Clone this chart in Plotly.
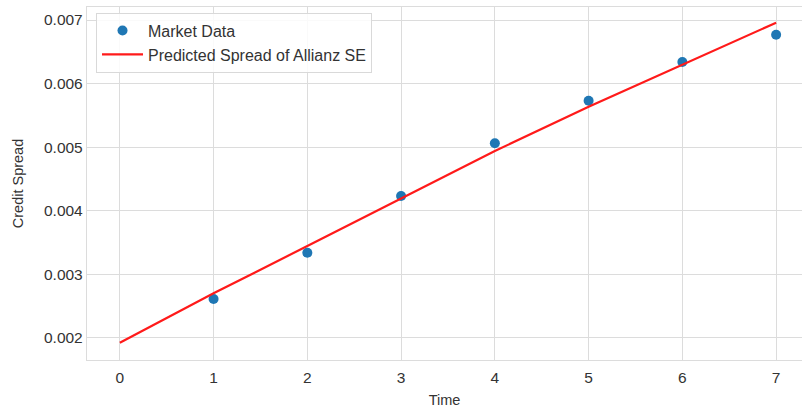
import plotly.graph_objects as go

# Data
time_market = [1, 2, 3, 4, 5, 6, 7]
spread_market = [0.002609, 0.003338, 0.004230, 0.005060, 0.005730, 0.006339, 0.006769]

time_pred = [0, 1, 2, 3, 4, 5, 6, 7]
spread_pred = [0.001921, 0.002699, 0.003443, 0.004194, 0.004938, 0.005636, 0.006292, 0.006958]

x_ticks = [0, 1, 2, 3, 4, 5, 6, 7]
y_ticks = [0.002, 0.003, 0.004, 0.005, 0.006, 0.007]
y_tick_text = ["0.002", "0.003", "0.004", "0.005", "0.006", "0.007"]

FONT = "Liberation Sans, Arial, sans-serif"
TXT = "#333333"
GRID = "#dcdcdc"

fig = go.Figure()
fig.add_trace(go.Scatter(
    x=time_market, y=spread_market, mode="markers", name="Market Data",
    marker=dict(color="#1f77b4", size=10, line=dict(width=0)),
))
fig.add_trace(go.Scatter(
    x=time_pred, y=spread_pred, mode="lines", name="Predicted Spread of Allianz SE",
    line=dict(color="#ff1a1a", width=2.2),
))

fig.update_layout(
    width=802, height=409,
    margin=dict(l=87, r=0, t=7, b=49),
    paper_bgcolor="white", plot_bgcolor="white",
    font=dict(family=FONT, color=TXT, size=15),
    showlegend=True,
    legend=dict(
        x=0.0126, y=0.984, xanchor="left", yanchor="top",
        bgcolor="rgba(255,255,255,0.85)", bordercolor="#d9d9d9", borderwidth=1,
        font=dict(size=16, color=TXT, family=FONT),
        tracegroupgap=0, itemwidth=41,
    ),
    xaxis=dict(
        range=[-0.35, 7.276], tickvals=x_ticks, ticktext=[str(v) for v in x_ticks],
        showgrid=True, gridcolor=GRID, gridwidth=1.3,
        showline=True, linecolor=GRID, linewidth=1.3, mirror=True,
        zeroline=False, ticks="", ticklen=0, ticklabelstandoff=3,
        tickfont=dict(size=15.5, color=TXT),
        title=dict(text="Time", font=dict(size=14.5, color=TXT), standoff=10),
    ),
    yaxis=dict(
        range=[0.001649, 0.007205], tickvals=y_ticks, ticktext=y_tick_text,
        showgrid=True, gridcolor=GRID, gridwidth=1.3,
        showline=True, linecolor=GRID, linewidth=1.3, mirror=False,
        zeroline=False, ticks="", ticklen=0,
        tickfont=dict(size=15.5, color=TXT),
        title=dict(text="Credit Spread", font=dict(size=14.5, color=TXT), standoff=16),
    ),
)

fig.write_html("out.html")
